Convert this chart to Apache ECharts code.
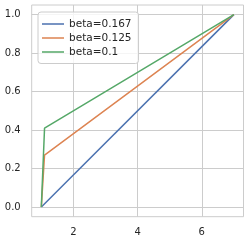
<!DOCTYPE html>
<html><head><meta charset="utf-8">
<script src="https://cdn.jsdelivr.net/npm/echarts@6/dist/echarts.min.js"></script>
<style>html,body{margin:0;padding:0;background:#fff}#c{width:249px;height:241px}</style>
</head><body><div id="c"></div>
<script>
const seriesNames = ['beta=0.167', 'beta=0.125', 'beta=0.1'];
const xBlue = [1, 7];
const yBlue = [0, 1];
const xOrange = [1, 1.1, 7];
const yOrange = [0, 0.27, 1];
const xGreen = [1, 1.1, 7];
const yGreen = [0, 0.41, 1];
const xTicks = [2, 4, 6];
const yTicks = [0, 0.2, 0.4, 0.6, 0.8, 1.0];
const colors = ['#4c72b0', '#dd8452', '#55a868'];

const pairs = (xs, ys) => xs.map((x, i) => [x, ys[i]]);
const datas = [pairs(xBlue, yBlue), pairs(xOrange, yOrange), pairs(xGreen, yGreen)];

const font = 'DejaVu Sans';
const lineIcon = 'path://M0,0L0.01,0L0.01,0.01L0,0.01Z M0,4.25L22,4.25L22,5.75L0,5.75Z M21.99,9.99L22,9.99L22,10L21.99,10Z';
const chart = echarts.init(document.getElementById('c'), null, {renderer: 'canvas'});
chart.setOption({
  animation: false,
  backgroundColor: '#fff',
  grid: {left: 31.7, right: 5.5, top: 5, bottom: 24.3, show: true, borderColor: '#cccccc', borderWidth: 1, backgroundColor: 'transparent'},
  xAxis: {
    type: 'value', min: 0.7, max: 7.3,
    axisLine: {show: false}, axisTick: {show: false, customValues: xTicks},
    axisLabel: {customValues: xTicks, color: '#262626', fontFamily: font, fontSize: 10, margin: 11, formatter: v => String(v)},
    splitLine: {show: true, lineStyle: {color: '#cccccc', width: 1}}
  },
  yAxis: {
    type: 'value', min: -0.05, max: 1.05,
    axisLine: {show: false}, axisTick: {show: false, customValues: yTicks},
    axisLabel: {customValues: yTicks, color: '#262626', fontFamily: font, fontSize: 10, margin: 11, formatter: v => v.toFixed(1)},
    splitLine: {show: true, lineStyle: {color: '#cccccc', width: 1}}
  },
  legend: {
    orient: 'vertical', left: 38, top: 12,
    data: seriesNames.map((n, i) => ({name: n, icon: lineIcon, itemStyle: {color: colors[i]}})),
    itemWidth: 22, itemHeight: 10, itemGap: 3, itemTextGap: 9,
    padding: [6.5, 7, 6, 4],
    backgroundColor: 'rgba(255,255,255,0.8)', borderColor: '#cccccc', borderWidth: 1, borderRadius: 3,
    textStyle: {color: '#262626', fontFamily: font, fontSize: 10.5}
  },
  series: datas.map((d, i) => ({
    name: seriesNames[i], type: 'line', data: d, symbol: 'none', showSymbol: false,
    color: colors[i], lineStyle: {color: colors[i], width: 1.5}, z: 3 + i
  }))
});
</script></body></html>
